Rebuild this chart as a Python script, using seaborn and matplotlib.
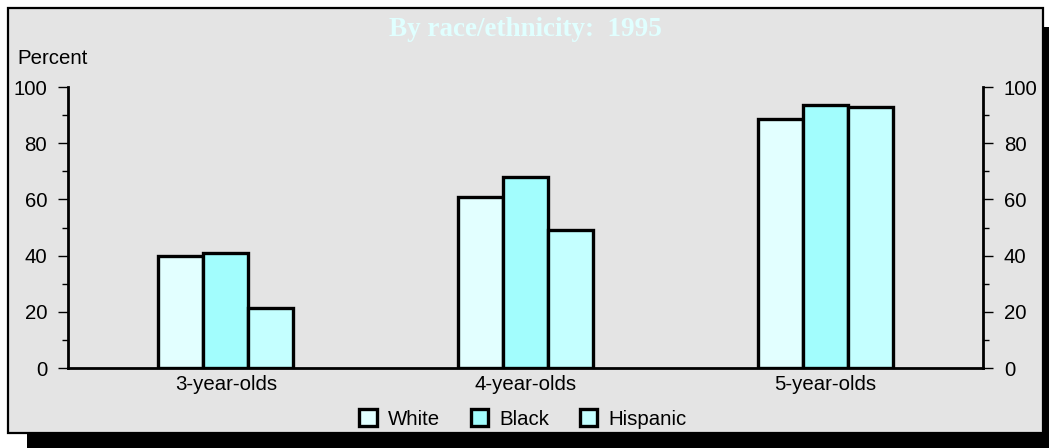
import matplotlib
matplotlib.use("Agg")
import matplotlib.pyplot as plt
from matplotlib.patches import Rectangle, Patch
from matplotlib.ticker import MultipleLocator
import pandas as pd
import seaborn as sns

# Enrollment rates (percent) by age and race/ethnicity, 1995
ages = ["3-year-olds", "4-year-olds", "5-year-olds"]
groups = ["White", "Black", "Hispanic"]
white = [40, 61, 88.5]
black = [41, 68, 93.5]
hispanic = [21.5, 49, 93]
colors = ["#e2ffff", "#a2fdfd", "#c4ffff"]
title = "By race/ethnicity:  1995"
y_ticks = [0, 20, 40, 60, 80, 100]

sns.set_theme(style="white")
plt.rcParams["font.family"] = ["Liberation Sans", "DejaVu Sans"]
plt.rcParams["text.color"] = "black"
FS = 14.7

df = pd.DataFrame({
    "age": ages * 3,
    "race": [g for g in groups for _ in ages],
    "pct": white + black + hispanic,
})

fig = plt.figure(figsize=(10.49, 4.48), dpi=100)
fig.patch.set_facecolor("white")

# framed panel with drop shadow
W, H = 1049, 448
fig.patches.append(Rectangle((27 / W, -5 / H), 1036 / W, 426 / H, transform=fig.transFigure,
                             facecolor="black", edgecolor="none", zorder=-2))
fig.patches.append(Rectangle((8 / W, 15 / H), 1035 / W, 425 / H, transform=fig.transFigure,
                             facecolor="#e4e4e4", edgecolor="black", linewidth=1.6, zorder=-1))

ax = fig.add_axes([68 / W, 1 - 368 / H, 915 / W, 281 / H])
ax.set_facecolor("none")
sns.barplot(data=df, x="age", y="pct", hue="race", hue_order=groups, palette=colors,
            width=0.45, saturation=1, edgecolor="black", linewidth=2.4, legend=False, ax=ax)
ax.set_xlim(-0.527, 2.527)
ax.set_ylim(0, 100)
ax.set_xlabel("")
ax.set_ylabel("")
ax.set_yticks(y_ticks)
ax.yaxis.set_minor_locator(MultipleLocator(10))
for side in ["left", "right", "bottom"]:
    ax.spines[side].set_visible(True)
    ax.spines[side].set_color("black")
    ax.spines[side].set_linewidth(2)
ax.spines["top"].set_visible(False)
ax.tick_params(axis="x", length=0, labelsize=FS, pad=5, colors="black")
ax.tick_params(axis="y", which="major", left=True, right=True, labelleft=True, labelright=True,
               direction="out", length=7, width=1, labelsize=FS, pad=8, colors="black")
ax.tick_params(axis="y", which="minor", left=True, right=True, direction="out", length=4, width=1,
               colors="black")
ax.grid(False)

fig.text(17 / W, 1 - 58 / H, "Percent", fontsize=FS, ha="left", va="center", color="black")
fig.text(525 / W, 1 - 29 / H, title, fontsize=19.5, fontweight="bold", ha="center", va="center",
         color="#e0ffff", family=["Liberation Serif", "DejaVu Serif"])

handles = [Patch(facecolor=c, edgecolor="black", linewidth=2.4) for c in colors]
leg = fig.legend(handles, groups, loc="center", bbox_to_anchor=(523 / W, 1 - 419 / H), ncol=3,
                 frameon=False, fontsize=FS, handlelength=0.85, handleheight=0.85,
                 handletextpad=0.55, columnspacing=1.5, borderpad=0)
for t in leg.get_texts():
    t.set_color("black")

fig.savefig("out.png", dpi=100)
